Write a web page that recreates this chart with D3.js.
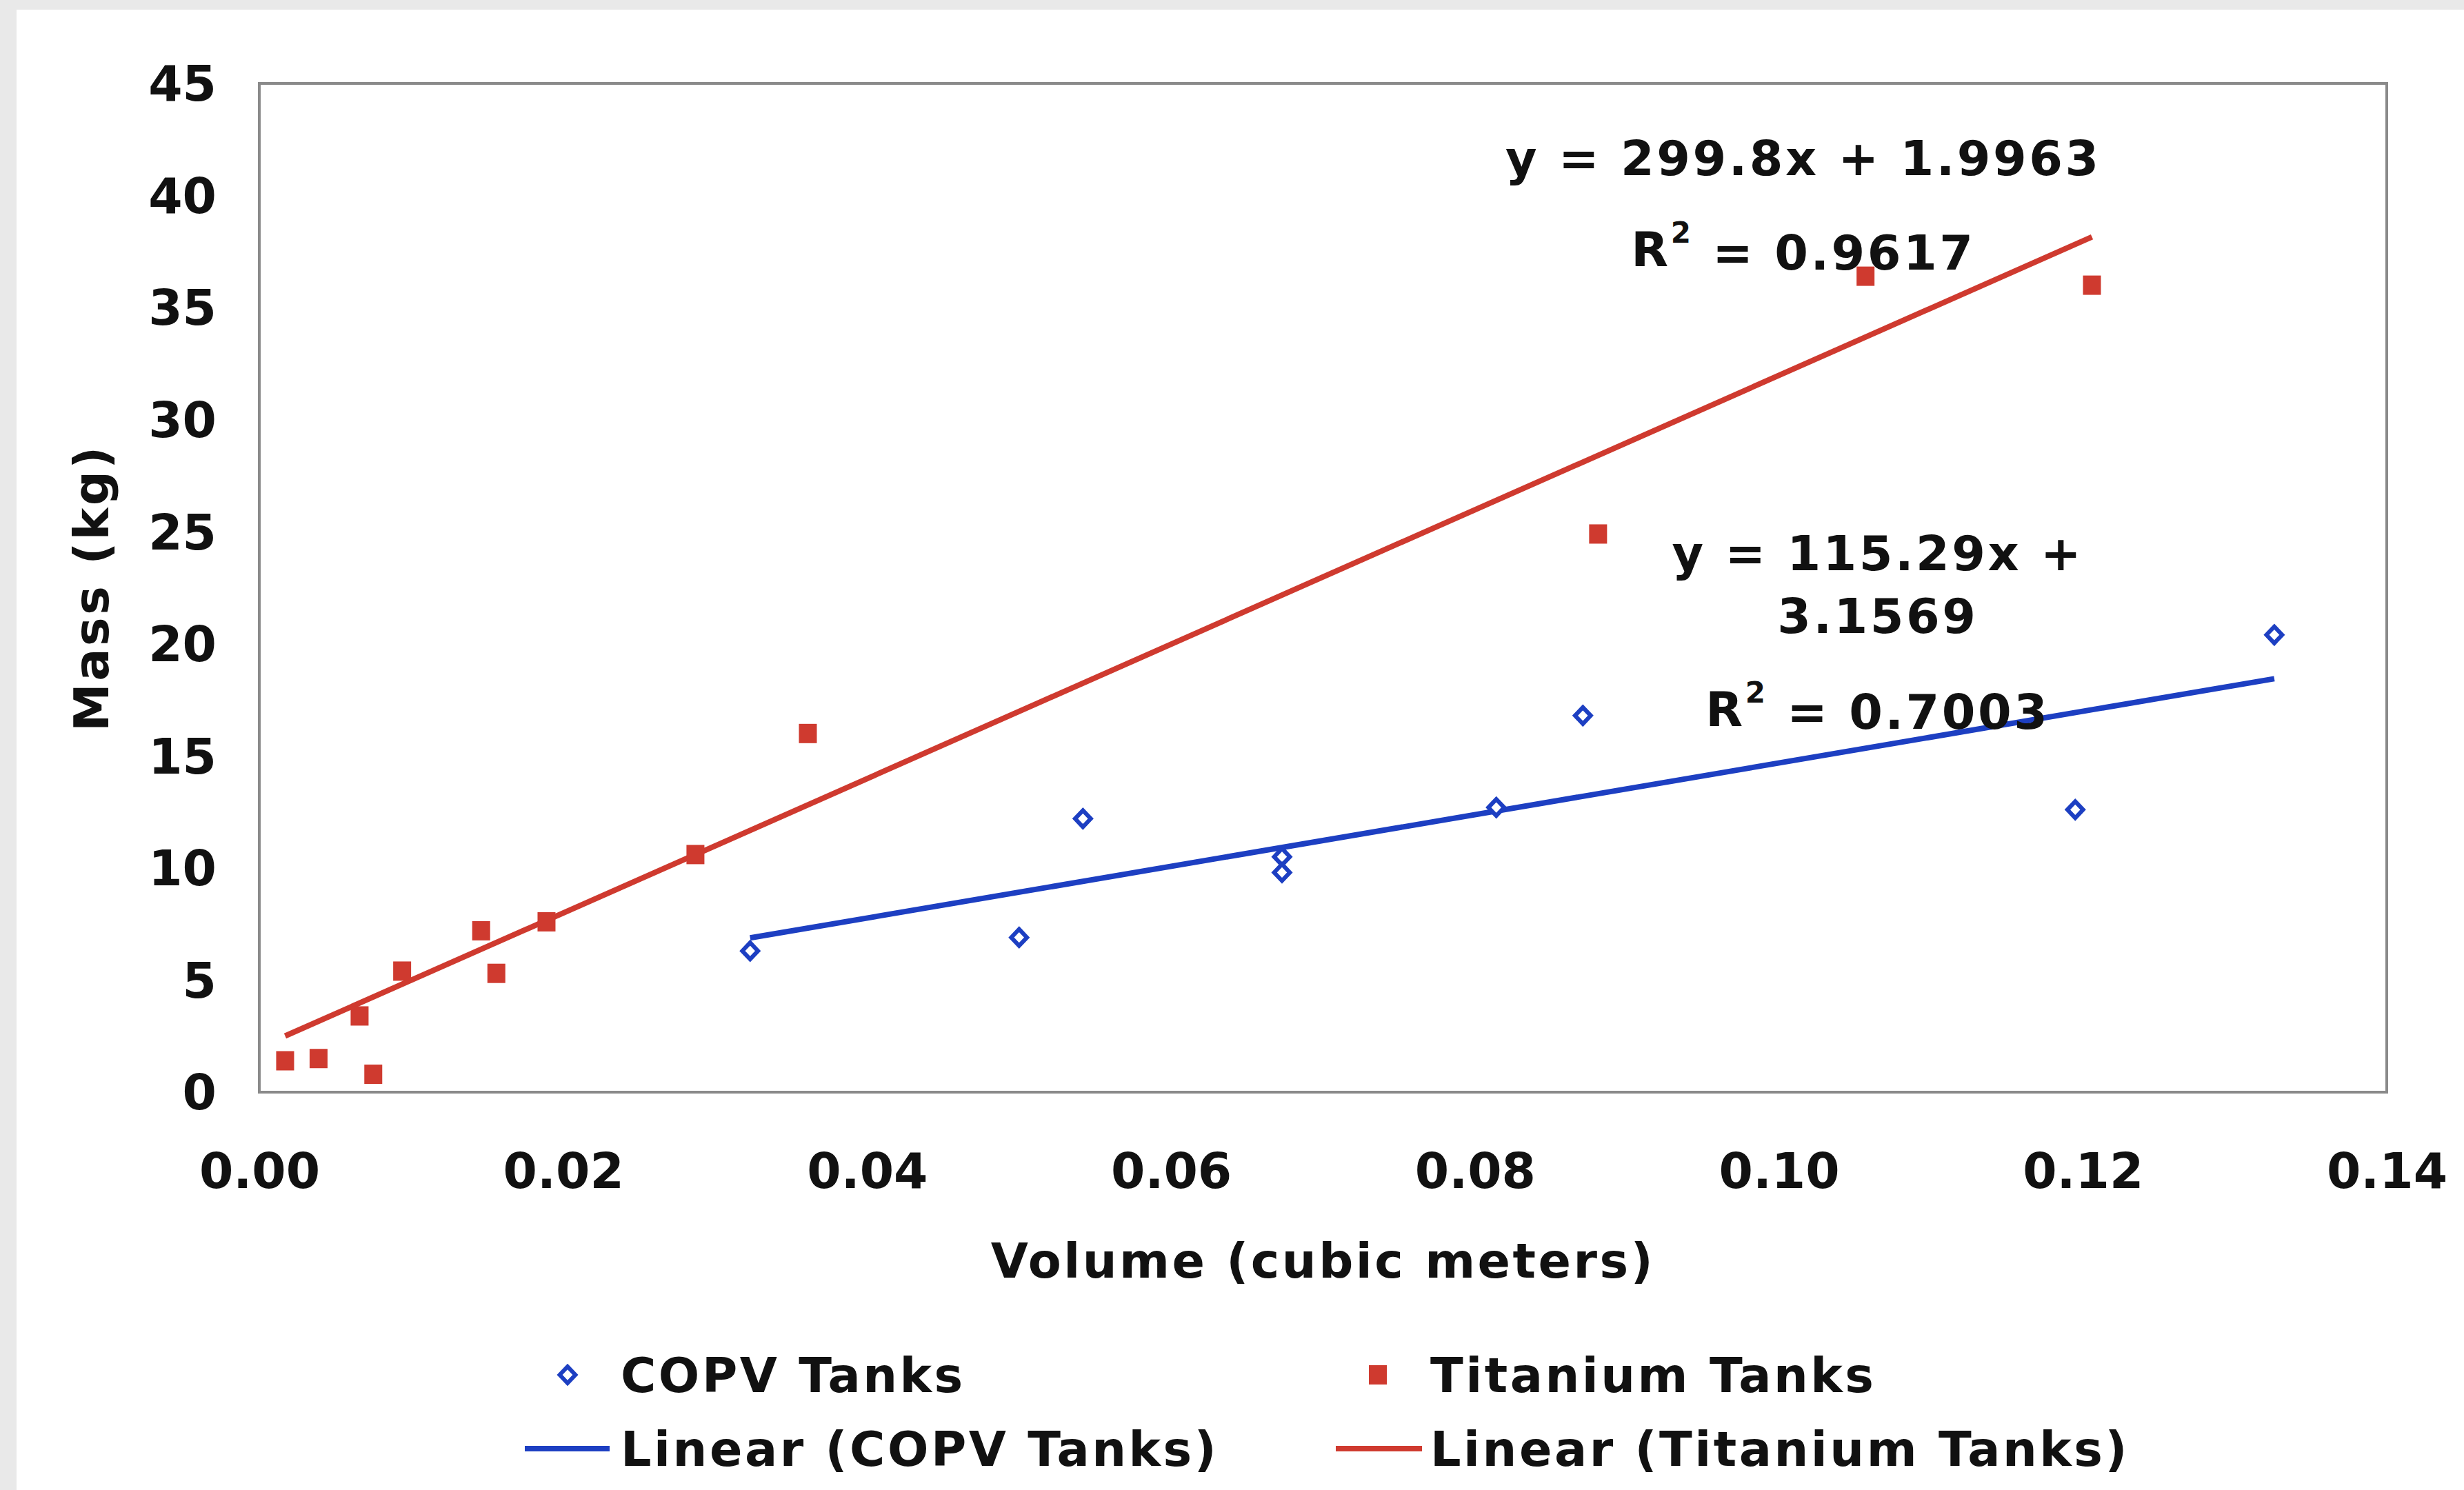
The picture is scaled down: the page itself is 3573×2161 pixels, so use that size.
<!DOCTYPE html>
<html>
<head>
<meta charset="utf-8">
<script src="https://cdn.jsdelivr.net/npm/d3@7"></script>
<style>
  html, body { margin: 0; padding: 0; background: #e9e9e9; overflow: hidden; }
  text { font-family: "DejaVu Sans", Verdana, sans-serif; font-weight: bold; fill: #111; }
  .wide { letter-spacing: 3.5px; }
</style>
</head>
<body>
<script>
// Data
const copvVolume = [0.0323, 0.0500, 0.0542, 0.0673, 0.0673, 0.0814, 0.0871, 0.1195, 0.1326];
const copvMass = [6.3, 6.9, 12.2, 10.5, 9.8, 12.7, 16.8, 12.6, 20.4];

const tiVolume = [0.0017, 0.0039, 0.0066, 0.0075, 0.0094, 0.0146, 0.0156, 0.0189, 0.0287, 0.0361, 0.0881, 0.1057, 0.1206];
const tiMass = [1.4, 1.5, 3.4, 0.8, 5.4, 7.2, 5.3, 7.6, 10.6, 16.0, 24.9, 36.4, 36.0];

// trendline coefficients as printed on the chart
const copvFit = { slope: 115.29, intercept: 3.1569, r2: "0.7003" };
const tiFit = { slope: 299.8, intercept: 1.9963, r2: "0.9617" };

const xTicks = [0, 0.02, 0.04, 0.06, 0.08, 0.1, 0.12, 0.14];
const yTicks = [0, 5, 10, 15, 20, 25, 30, 35, 40, 45];

const legendLabels = ["COPV Tanks", "Titanium Tanks", "Linear (COPV Tanks)", "Linear (Titanium Tanks)"];

// Canvas config
const config = {
  width: 3573,
  height: 2161
};
const plot = { left: 376, top: 121, right: 3461, bottom: 1584 };

const colors = {
  copv: "#1d3fc2",
  ti: "#cf3a2f",
  frame: "#8a8a8a"
};

const svg = d3
  .select("body")
  .append("svg")
  .attr("width", config.width)
  .attr("height", config.height);

// white page, grey strips on top and left
svg
  .append("rect")
  .attr("x", 24)
  .attr("y", 14)
  .attr("width", config.width - 24)
  .attr("height", config.height - 14)
  .attr("fill", "#ffffff");

const x = d3.scaleLinear().domain([0, 0.14]).range([plot.left, plot.right]);
const y = d3.scaleLinear().domain([0, 45]).range([plot.bottom, plot.top]);

// plot frame
svg
  .append("rect")
  .attr("x", plot.left)
  .attr("y", plot.top)
  .attr("width", plot.right - plot.left)
  .attr("height", plot.bottom - plot.top)
  .attr("fill", "none")
  .attr("stroke", colors.frame)
  .attr("stroke-width", 4);

// axes (labels only, Excel style)
const xAxis = svg
  .append("g")
  .attr("transform", `translate(0,${plot.bottom + 114})`)
  .call(d3.axisBottom(x).tickValues(xTicks).tickFormat(d3.format(".2f")).tickSize(0).tickPadding(0));
xAxis.select(".domain").remove();
xAxis
  .selectAll("text")
  .attr("font-size", 71)
  .attr("dy", "0.35em")
  .attr("font-family", null);

const yAxis = svg
  .append("g")
  .attr("transform", `translate(${plot.left - 62},0)`)
  .call(d3.axisLeft(y).tickValues(yTicks).tickSize(0).tickPadding(0));
yAxis.select(".domain").remove();
yAxis
  .selectAll("text")
  .attr("font-size", 71)
  .attr("dy", "0.35em")
  .attr("font-family", null);

// axis titles
svg
  .append("text")
  .attr("class", "wide")
  .attr("x", (plot.left + plot.right) / 2)
  .attr("y", 1828)
  .attr("dy", "0.35em")
  .attr("text-anchor", "middle")
  .attr("font-size", 70)
  .text("Volume (cubic meters)");

svg
  .append("text")
  .attr("class", "wide")
  .attr("transform", `translate(132,${(plot.top + plot.bottom) / 2}) rotate(-90)`)
  .attr("dy", "0.35em")
  .attr("text-anchor", "middle")
  .attr("font-size", 70)
  .text("Mass (kg)");

// trendlines
const trend = (vols, fit) => {
  const [lo, hi] = d3.extent(vols);
  return [
    [lo, fit.slope * lo + fit.intercept],
    [hi, fit.slope * hi + fit.intercept]
  ];
};
const line = d3
  .line()
  .x(d => x(d[0]))
  .y(d => y(d[1]));

svg
  .append("path")
  .attr("d", line(trend(tiVolume, tiFit)))
  .attr("stroke", colors.ti)
  .attr("stroke-width", 8)
  .attr("fill", "none");

svg
  .append("path")
  .attr("d", line(trend(copvVolume, copvFit)))
  .attr("stroke", colors.copv)
  .attr("stroke-width", 8)
  .attr("fill", "none");

// markers
const diamond = s => `M0,${-s}L${s * 0.95},0L0,${s}L${-s * 0.95},0Z`;

svg
  .append("g")
  .selectAll("rect")
  .data(tiVolume.map((v, i) => [v, tiMass[i]]))
  .enter()
  .append("rect")
  .attr("x", d => x(d[0]) - 13)
  .attr("y", d => y(d[1]) - 14)
  .attr("width", 26)
  .attr("height", 28)
  .attr("fill", colors.ti);

svg
  .append("g")
  .selectAll("path")
  .data(copvVolume.map((v, i) => [v, copvMass[i]]))
  .enter()
  .append("path")
  .attr("transform", d => `translate(${x(d[0])},${y(d[1])})`)
  .attr("d", diamond(12))
  .attr("fill", "#fff")
  .attr("stroke", colors.copv)
  .attr("stroke-width", 6);

// equation labels (positions in data units)
const eqLabels = [
  { lines: [`y = ${tiFit.slope}x + ${tiFit.intercept}`], r2: tiFit.r2, vx: 0.1016, vy: [41.65], r2y: 37.6 },
  { lines: [`y = ${copvFit.slope}x +`, `${copvFit.intercept}`], r2: copvFit.r2, vx: 0.1065, vy: [24.05, 21.25], r2y: 17.1 }
];

eqLabels.forEach(lab => {
  lab.lines.forEach((t, i) => {
    svg
      .append("text")
      .attr("class", "wide")
      .attr("x", x(lab.vx))
      .attr("y", y(lab.vy[i]))
      .attr("dy", "0.35em")
      .attr("text-anchor", "middle")
      .attr("font-size", 70)
      .text(t);
  });
  const r = svg
    .append("text")
    .attr("class", "wide")
    .attr("x", x(lab.vx))
    .attr("y", y(lab.r2y))
    .attr("dy", "0.35em")
    .attr("text-anchor", "middle")
    .attr("font-size", 70);
  r.append("tspan").text("R");
  r.append("tspan").attr("font-size", 42).attr("dy", "-0.8em").text("2");
  r.append("tspan").attr("dy", "0.55em").text(` = ${lab.r2}`);
});

// legend
const legend = svg.append("g").attr("id", "legend");
const legendRows = [
  { label: legendLabels[0], kind: "diamond", cx: 823, tx: 900, y: 1994 },
  { label: legendLabels[1], kind: "square", cx: 1998, tx: 2074, y: 1994 },
  { label: legendLabels[2], kind: "line", x0: 761, x1: 884, tx: 900, y: 2101, color: colors.copv },
  { label: legendLabels[3], kind: "line", x0: 1937, x1: 2062, tx: 2074, y: 2101, color: colors.ti }
];

legendRows.forEach(r => {
  if (r.kind === "diamond") {
    legend
      .append("path")
      .attr("transform", `translate(${r.cx},${r.y})`)
      .attr("d", diamond(12))
      .attr("fill", "#fff")
      .attr("stroke", colors.copv)
      .attr("stroke-width", 6);
  } else if (r.kind === "square") {
    legend
      .append("rect")
      .attr("x", r.cx - 13)
      .attr("y", r.y - 14)
      .attr("width", 26)
      .attr("height", 28)
      .attr("fill", colors.ti);
  } else {
    legend
      .append("line")
      .attr("x1", r.x0)
      .attr("x2", r.x1)
      .attr("y1", r.y)
      .attr("y2", r.y)
      .attr("stroke", r.color)
      .attr("stroke-width", 8);
  }
  legend
    .append("text")
    .attr("class", "wide")
    .attr("x", r.tx)
    .attr("y", r.y)
    .attr("dy", "0.35em")
    .attr("font-size", 70)
    .text(r.label);
});
</script>
</body>
</html>
